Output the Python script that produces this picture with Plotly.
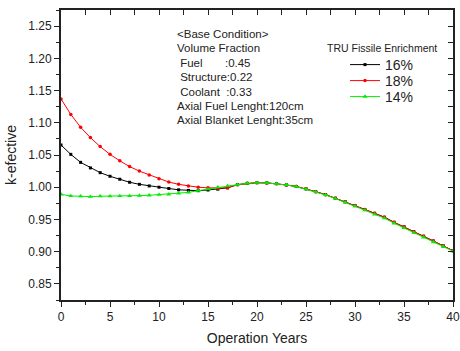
import plotly.graph_objects as go

years = list(range(0, 41))

k16 = [1.0655, 1.051, 1.0386, 1.030, 1.0226, 1.017, 1.0124, 1.0077, 1.0045, 1.002,
       1.000, 0.998, 0.996, 0.995, 0.9946, 0.9957, 0.997, 0.999, 1.004, 1.006,
       1.007, 1.0067, 1.0055, 1.0035, 1.0012, 0.9975, 0.993, 0.9885, 0.983, 0.9775,
       0.9715, 0.9655, 0.9595, 0.9535, 0.9455, 0.9385, 0.931, 0.924, 0.9165, 0.909,
       0.9015]
k18 = [1.137, 1.113, 1.093, 1.077, 1.063, 1.051, 1.041, 1.032, 1.025, 1.019,
       1.013, 1.008, 1.0045, 1.002, 1.000, 0.999, 0.9985, 0.999, 1.004, 1.006,
       1.007, 1.0067, 1.0055, 1.0035, 1.0012, 0.9975, 0.993, 0.9885, 0.983, 0.9775,
       0.9715, 0.9655, 0.9595, 0.9535, 0.9455, 0.9385, 0.931, 0.924, 0.9165, 0.909,
       0.9015]
k14 = [0.989, 0.9864, 0.986, 0.9854, 0.986, 0.986, 0.9864, 0.9864, 0.987, 0.9875,
       0.9885, 0.989, 0.9905, 0.992, 0.9946, 0.997, 1.000, 1.002, 1.004, 1.006,
       1.007, 1.0067, 1.0055, 1.0035, 1.001, 0.997, 0.9926, 0.988, 0.9823, 0.9766,
       0.9705, 0.9643, 0.958, 0.952, 0.944, 0.9368, 0.9295, 0.9223, 0.915, 0.908,
       0.9007]

series_names = ["16%", "18%", "14%"]
info_lines = ["<Base Condition>", "Volume Fraction", " Fuel       :0.45",
              " Structure:0.22", " Coolant  :0.33",
              "Axial Fuel Lenght:120cm", "Axial Blanket Lenght:35cm"]
legend_title = "TRU Fissile Enrichment"

FONT = "Liberation Sans, Arial, sans-serif"
INK = "#222"

L, R, T, B = 61, 7, 10, 51
W, H = 460, 351
PW, PH = W - L - R, H - T - B


def px_x(p):
    return (p - L) / PW


def px_y(p):
    return 1 - (p - T) / PH


fig = go.Figure()
fig.add_trace(go.Scatter(x=years, y=k16, mode="lines+markers", name=series_names[0],
                         line=dict(color="black", width=1), legend="legend",
                         marker=dict(symbol="square", size=3, color="black")))
fig.add_trace(go.Scatter(x=years, y=k18, mode="lines+markers", name=series_names[1],
                         line=dict(color="red", width=1), legend="legend2",
                         marker=dict(symbol="circle", size=3.5, color="red")))
fig.add_trace(go.Scatter(x=years, y=k14, mode="lines+markers", name=series_names[2],
                         line=dict(color="#00ee00", width=1), legend="legend3",
                         marker=dict(symbol="triangle-up", size=4.5, color="#00ee00")))
# invisible trace to anchor mirrored axes
fig.add_trace(go.Scatter(x=[0], y=[1.0], xaxis="x2", yaxis="y2", mode="markers",
                         marker=dict(opacity=0), showlegend=False, hoverinfo="skip"))

xr = [0, 40]
yr = [0.825, 1.275]

leg_common = dict(xanchor="left", yanchor="middle", bgcolor="rgba(0,0,0,0)",
                  font=dict(size=14, color=INK), itemwidth=30)

fig.update_layout(
    width=W, height=H,
    margin=dict(l=L, r=R, t=T, b=B, autoexpand=False),
    paper_bgcolor="white", plot_bgcolor="white",
    font=dict(family=FONT, color=INK, size=12),
    showlegend=True,
    legend=dict(x=px_x(345), y=px_y(65), **leg_common),
    legend2=dict(x=px_x(345), y=px_y(81), **leg_common),
    legend3=dict(x=px_x(345), y=px_y(97), **leg_common),
    xaxis=dict(range=xr, showgrid=False, zeroline=False, automargin=False,
               showline=True, linecolor=INK, linewidth=2,
               ticks="outside", ticklen=5, tickwidth=1, tickcolor=INK,
               dtick=5, tick0=0,
               minor=dict(ticks="outside", ticklen=3, dtick=2.5, tickcolor=INK),
               title=dict(text="Operation Years", font=dict(size=14, color=INK), standoff=10),
               tickfont=dict(size=12, color=INK)),
    yaxis=dict(range=yr, showgrid=False, zeroline=False, automargin=False,
               showline=True, linecolor=INK, linewidth=2,
               ticks="outside", ticklen=5, tickwidth=1, tickcolor=INK,
               tickvals=[0.85, 0.90, 0.95, 1.00, 1.05, 1.10, 1.15, 1.20, 1.25],
               ticktext=["0.85", "0.90", "0.95", "1.00", "1.05", "1.10", "1.15", "1.20", "1.25"],
               minor=dict(ticks="outside", ticklen=3, dtick=0.025, tick0=0.825, tickcolor=INK),
               title=dict(text="k-efective", font=dict(size=14, color=INK), standoff=8),
               tickfont=dict(size=12, color=INK)),
    xaxis2=dict(range=xr, overlaying="x", side="top", anchor="y2", automargin=False,
                showgrid=False, zeroline=False, showticklabels=False,
                showline=True, linecolor=INK, linewidth=1.5,
                ticks="inside", ticklen=5, tickcolor=INK, dtick=2.5, tick0=0),
    yaxis2=dict(range=yr, overlaying="y", side="right", anchor="x2", automargin=False,
                showgrid=False, zeroline=False, showticklabels=False,
                showline=True, linecolor=INK, linewidth=1.5,
                ticks="inside", ticklen=5, tickcolor=INK, dtick=0.025, tick0=0.825),
)

y0 = 34
for i, line in enumerate(info_lines):
    fig.add_annotation(text=line.replace(" ", "&nbsp;"), xref="paper", yref="paper",
                       x=px_x(175), y=px_y(y0 + i * 14.4),
                       xanchor="left", yanchor="middle", showarrow=False,
                       font=dict(size=11.5, color=INK))

fig.add_annotation(text=legend_title, xref="paper", yref="paper",
                   x=px_x(325), y=px_y(48), xanchor="left", yanchor="middle",
                   showarrow=False, font=dict(size=10.5, color=INK))

fig.write_html("out.html", config={"displayModeBar": False})

with open("out.html", "r", encoding="utf-8") as f:
    html = f.read()
html = html.replace("<head>", "<head><style>html,body{margin:0;padding:0;overflow:hidden;}</style>", 1)
with open("out.html", "w", encoding="utf-8") as f:
    f.write(html)
